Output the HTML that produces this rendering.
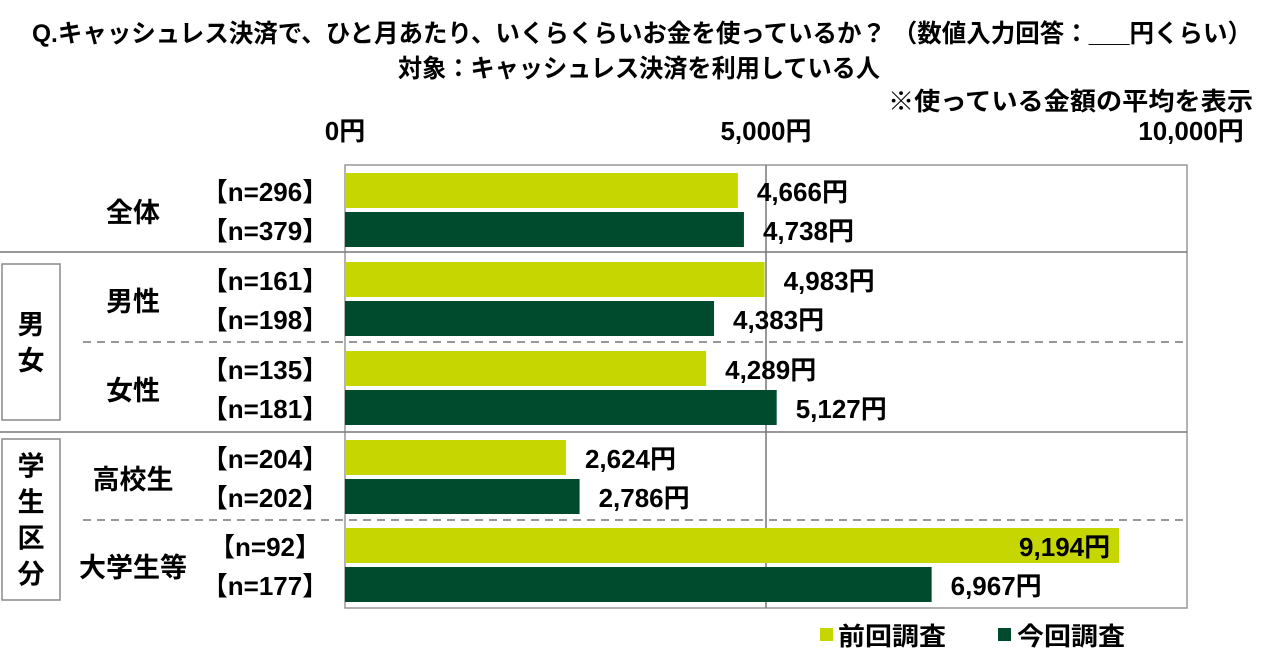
<!DOCTYPE html>
<html><head><meta charset="utf-8"><style>
body{margin:0;width:1280px;height:657px;background:#fff;overflow:hidden;font-family:"Liberation Sans","Noto Sans CJK JP",sans-serif;font-weight:bold;color:#111}
svg text{font-family:"Liberation Sans","Noto Sans CJK JP",sans-serif;font-weight:bold}
</style></head><body>
<svg width="1280" height="657">
<text x="32" y="42" font-size="25" textLength="1220" lengthAdjust="spacingAndGlyphs">Q.キャッシュレス決済で、ひと月あたり、いくらくらいお金を使っているか？ （数値入力回答：___円くらい）</text>
<text x="398" y="77" font-size="25" textLength="482" lengthAdjust="spacingAndGlyphs">対象：キャッシュレス決済を利用している人</text>
<text x="888" y="110" font-size="25" textLength="365" lengthAdjust="spacingAndGlyphs">※使っている金額の平均を表示</text>
<g id="axis"></g>
<g id="bars"></g>
<g id="left"></g>
<rect x="820" y="628" width="13" height="13" fill="#c5d600"/>
<text x="838" y="645" font-size="25" textLength="108" lengthAdjust="spacingAndGlyphs">前回調査</text>
<rect x="998" y="628" width="13" height="13" fill="#004a2e"/>
<text x="1017" y="645" font-size="25" textLength="108" lengthAdjust="spacingAndGlyphs">今回調査</text>
</svg>
<script>
const categories=["全体","男性","女性","高校生","大学生等"];
const prevValues=[4666,4983,4289,2624,9194];
const currValues=[4738,4383,5127,2786,6967];
const prevN=["296","161","135","204","92"];
const currN=["379","198","181","202","177"];
const ticks=[0,5000,10000];
const tickLabels=["0円","5,000円","10,000円"];
const NS="http://www.w3.org/2000/svg";
const X0=345,X1=1187,MAX=10000,TOP=165,BOT=608;
const x=v=>X0+(X1-X0)*v/MAX;
function mk(t,a,p,txt){const e=document.createElementNS(NS,t);for(const k in a)e.setAttribute(k,a[k]);if(txt!=null)e.textContent=txt;p.appendChild(e);return e;}
const ax=document.getElementById('axis'),bars=document.getElementById('bars'),left=document.getElementById('left');
let r=mk('rect',{x:X0,y:TOP,width:X1-X0,height:BOT-TOP,fill:'none',stroke:'#999','stroke-width':1.5},ax);


ticks.forEach((t,i)=>{
 if(i>0&&i<ticks.length-1){const l=mk('line',{x1:x(t),x2:x(t),y1:TOP,y2:BOT,stroke:'#777','stroke-width':1.5},ax);
 
 }
 const tx=mk('text',{x:i==ticks.length-1?x(t)+4:x(t),y:140,'text-anchor':'middle','font-size':26},ax,tickLabels[i]);
 
 
});
const groupTop=[173,262,351,440,528];
[[252,0,'solid'],[432,0,'solid'],[342,83,'dash'],[520,83,'dash']].forEach(s=>{
 const l=mk('line',{x1:s[1],x2:X1,y1:s[0],y2:s[0],stroke:'#777','stroke-width':1.5},ax);
 if(s[2]=='dash')l.setAttribute('stroke-dasharray','8,6');
 
 
});
categories.forEach((c,i)=>{
 const y1=groupTop[i],y2=y1+39,h=35;
 const b1=mk('rect',{x:X0,y:y1,width:x(prevValues[i])-X0,height:h,fill:'#c5d600'},bars);
 
 
 const b2=mk('rect',{x:X0,y:y2,width:x(currValues[i])-X0,height:h,fill:'#004a2e'},bars);
 
 
 const fmt=v=>v.toLocaleString('en-US')+'円';
 const big=x(prevValues[i])>1100;
 const t1=mk('text',{x:big?x(prevValues[i])-9:x(prevValues[i])+19,y:y1+28,'text-anchor':big?'end':'start','font-size':26},bars,fmt(prevValues[i]));
 
 
 const t2=mk('text',{x:x(currValues[i])+19,y:y2+28,'font-size':26},bars,fmt(currValues[i]));
 
 
 const n1=mk('text',{x:265,y:y1+28,'text-anchor':'middle','font-size':26},left,'【n='+prevN[i]+'】');
 
 
 const n2=mk('text',{x:265,y:y2+28,'text-anchor':'middle','font-size':26},left,'【n='+currN[i]+'】');
 
 
 const cl=mk('text',{x:133,y:y1+49,'text-anchor':'middle','font-size':27},left,c);
 
 
});
[[264,420,['男','女']],[439,600,['学','生','区','分']]].forEach(g=>{
 const rr=mk('rect',{x:2,y:g[0],width:58,height:g[1]-g[0],fill:'none',stroke:'#888','stroke-width':1.5},left);
 
 
 const mid=(g[0]+g[1])/2,n=g[2].length;
 g[2].forEach((ch,k)=>{
  const t=mk('text',{x:31,y:mid+(k-(n-1)/2)*36+10,'text-anchor':'middle','font-size':27},left,ch);
  
  
 });
});
</script>
</body></html>
